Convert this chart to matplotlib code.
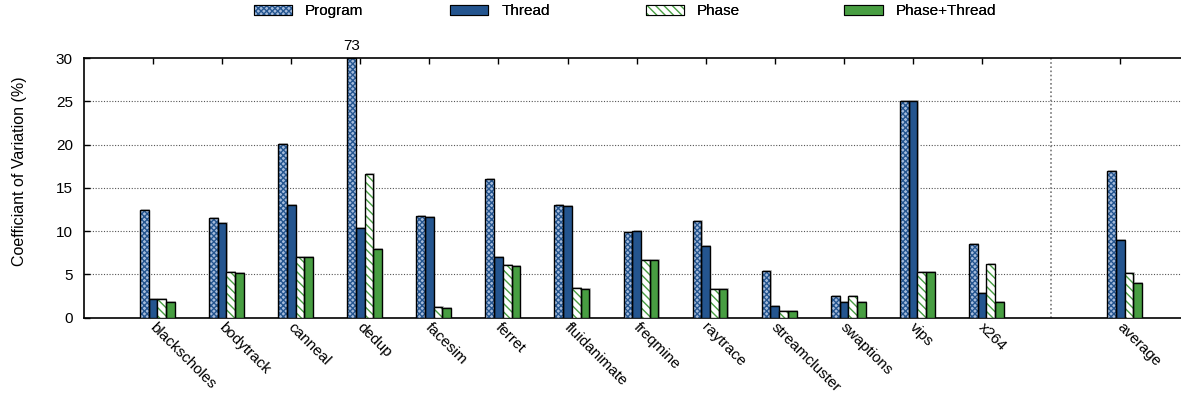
import numpy as np
import matplotlib
matplotlib.use("Agg")
import matplotlib.pyplot as plt

plt.rcParams['font.family'] = ['Liberation Sans', 'DejaVu Sans']
plt.rcParams['hatch.linewidth'] = 1.0

# benchmarks and coefficient of variation per measurement scheme
benchmarks = ["blackscholes", "bodytrack", "canneal", "dedup", "facesim", "ferret",
              "fluidanimate", "freqmine", "raytrace", "streamcluster", "swaptions",
              "vips", "x264", "average"]
program = [12.4, 11.5, 20.1, 73, 11.7, 16.0, 13.0, 9.9, 11.2, 5.35, 2.45, 25.0, 8.5, 16.9]
thread = [2.15, 10.9, 13.0, 10.3, 11.65, 7.0, 12.9, 10.0, 8.25, 1.35, 1.75, 25.0, 2.8, 9.0]
phase = [2.15, 5.25, 7.0, 16.55, 1.2, 6.05, 3.4, 6.65, 3.3, 0.8, 2.45, 5.25, 6.2, 5.1]
phase_thread = [1.8, 5.1, 7.0, 7.95, 1.15, 6.0, 3.3, 6.65, 3.3, 0.75, 1.75, 5.25, 1.8, 3.95]

blue = "#24558f"
green = "#489e42"
ymax = 30

# average sits one slot further right, after a separator
xpos = np.array(list(range(13)) + [14], dtype=float)
w = 0.126

fig = plt.figure(figsize=(11.81, 4), dpi=100)
ax = fig.add_axes([0.0711, 0.206, 0.9289, 0.649])

series = [
    ("Program", program, dict(facecolor="#a6bcdc", hatch_color=blue, hatch="xxxxxx")),
    ("Thread", thread, dict(facecolor=blue, hatch_color=None, hatch=None)),
    ("Phase", phase, dict(facecolor="white", hatch_color=green, hatch="\\\\\\\\")),
    ("Phase+Thread", phase_thread, dict(facecolor=green, hatch_color=None, hatch=None)),
]

for i, (name, vals, st) in enumerate(series):
    x = xpos + (i - 1) * w
    h = np.minimum(vals, ymax)
    # soft shadow behind each bar
    ax.bar(x + 0.018, h + 0.12, width=w, color="#c4c4c4", linewidth=0, zorder=2)
    if st["hatch"]:
        ax.bar(x, h, width=w, facecolor=st["facecolor"], edgecolor=st["hatch_color"],
               hatch=st["hatch"], linewidth=0, zorder=3)
        ax.bar(x, h, width=w, facecolor="none", edgecolor="black", linewidth=1.0, zorder=4)
    else:
        ax.bar(x, h, width=w, facecolor=st["facecolor"], edgecolor="black",
               linewidth=1.0, zorder=3)

# value of the clipped dedup bar
ax.text(xpos[3] - w, ymax + 0.6, "%d" % program[3], ha="center", va="bottom", fontsize=11)

ax.set_xlim(-1.0, 14.88)
ax.set_ylim(0, ymax)
ax.set_yticks(range(0, 31, 5))
ax.tick_params(axis="y", direction="in", length=4, width=1, labelsize=11, pad=8)
for y in range(5, 30, 5):
    ax.axhline(y, color="#555555", linestyle=(0, (1, 1.5)), linewidth=0.8, zorder=1)
ax.axvline(13, color="#777777", linestyle=(0, (1, 1.5)), linewidth=1.2, zorder=1)

ax.set_xticks(xpos)
ax.set_xticklabels([])
ax.tick_params(axis="x", which="both", bottom=False, top=True, direction="in",
               length=4, width=1, labelbottom=False)
for xp, name in zip(xpos, benchmarks):
    ax.text(xp - 0.02, -0.9, name, rotation=-45, rotation_mode="anchor",
            ha="left", va="center", fontsize=11)

for side in ["top", "bottom", "left"]:
    ax.spines[side].set_linewidth(1.2)
ax.spines["right"].set_visible(False)

ax.set_ylabel("Coefficiant of Variation (%)", fontsize=11.5)
ax.yaxis.set_label_coords(-0.052, 0.565)

# legend entries on a fixed grid along the top
legend_x = [0.215, 0.381, 0.547, 0.715]
for (name, vals, st), lx in zip(series, legend_x):
    if st["hatch"]:
        patch = plt.Rectangle((0, 0), 1, 1, facecolor=st["facecolor"],
                              edgecolor=st["hatch_color"], hatch=st["hatch"], linewidth=0)
        frame = plt.Rectangle((0, 0), 1, 1, facecolor="none", edgecolor="black", linewidth=0.8)
        handle = (patch, frame)
    else:
        handle = plt.Rectangle((0, 0), 1, 1, facecolor=st["facecolor"],
                               edgecolor="black", linewidth=0.8)
    leg = fig.legend([handle], [name], loc="center left", bbox_to_anchor=(lx, 0.972),
                     frameon=False, fontsize=11, handlelength=2.5, handleheight=0.65,
                     handletextpad=0.85, borderpad=0, borderaxespad=0)
    fig.add_artist(leg)

fig.savefig("out.png", dpi=100)
